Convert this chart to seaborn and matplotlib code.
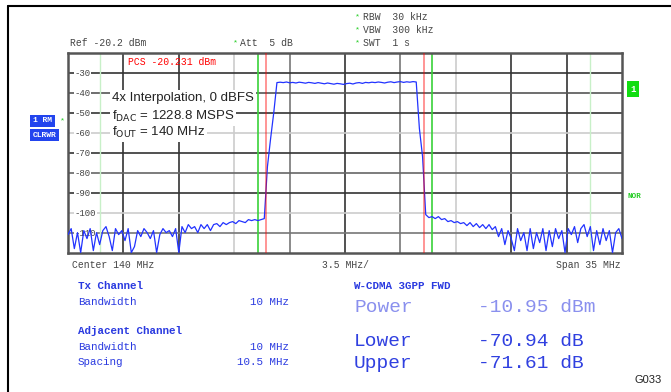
import numpy as np
import matplotlib
matplotlib.use("Agg")
import matplotlib.pyplot as plt
from matplotlib.lines import Line2D
import seaborn as sns

# sweep: center 140 MHz, span 35 MHz, 176 points (offset from center, MHz)
center_mhz = 140
span_mhz = 35
ref_dbm = -20.2
freq_offset = np.linspace(-span_mhz / 2, span_mhz / 2, 176)

# trace levels (dBm)
left_noise = [-111, -108, -118, -110, -120, -109, -113, -108, -119, -110,
              -116, -109, -107, -112, -119, -108, -111, -109, -114, -108,
              -120, -117, -109, -112, -108, -110, -113, -109, -120, -111,
              -108, -110, -109, -112, -108, -120]
left_shoulder = [-107, -110, -106, -108, -107, -110, -106, -108, -106, -109,
                 -106, -105.5, -107, -105, -106, -105, -104.5, -105.5, -104, -104.5,
                 -105, -103.5, -104, -103.5, -104, -103.5, -103]
rise = [-77, -63, -50, -35]
flat_top = [-34.8, -35.0, -34.7, -35.1, -34.9, -35.2, -34.8, -35.0, -35.3, -34.9,
            -35.1, -35.4, -35.0, -35.3, -35.6, -35.2, -35.5, -35.8, -35.4, -35.6,
            -35.9, -35.5, -35.3, -35.7, -35.2, -35.0, -35.4, -34.9, -35.1, -34.8,
            -35.0, -34.7, -34.9, -35.2, -34.8, -34.6, -35.0, -34.7, -34.5, -34.9,
            -34.6, -34.8, -34.5, -34.7]
fall = [-58, -72]
right_noise = [-101, -102.5, -102, -103, -102, -103.5, -103, -104.5, -104, -105,
               -104.5, -105.5, -105, -106.5, -105, -107, -105.5, -107.5, -106, -108,
               -106, -108.5, -107, -112, -108, -116, -109, -113, -119, -108,
               -114, -110, -119, -108, -118, -110, -115, -108, -119, -109,
               -117, -108, -113, -109, -120, -108, -111, -107, -115, -108,
               -106, -112, -107, -119, -109, -116, -108, -114, -109, -120,
               -110, -108, -113]
level = left_noise + left_shoulder + rise + flat_top + fall + right_noise

y_labels = ["-30", "-40", "-50", "-60", "-70", "-80", "-90", "-100", "-110"]

# ACP setup
tx_bw = 10
adj_bw = 10
adj_spacing = 10.5

W, H = 671, 392
sns.set_theme(style="white")
plt.rcParams["font.family"] = ["Liberation Mono", "DejaVu Sans Mono"]

fig = plt.figure(figsize=(W / 100, H / 100), dpi=100)
ax = fig.add_axes([68 / W, 1 - 253 / H, 554 / W, 200 / H])


def px(x, y):
    return x / W, 1 - y / H


# channel limit lines
for f in [-(adj_spacing - adj_bw / 2), adj_spacing - adj_bw / 2]:
    ax.axvline(f, color="#3ad23a", lw=1.2, zorder=2)
for f in [-(adj_spacing + adj_bw / 2), adj_spacing + adj_bw / 2]:
    ax.axvline(f, color="#c8f0c8", lw=1.0, zorder=2)

sns.lineplot(x=freq_offset, y=level, ax=ax, color="#2233ff", lw=0.9, zorder=4)

for f in [-tx_bw / 2, tx_bw / 2]:
    ax.axvline(f, color="red", lw=1.3, alpha=0.45, zorder=5)

ax.set_xlim(-span_mhz / 2, span_mhz / 2)
ax.set_ylim(ref_dbm - 100, ref_dbm)
ax.set_xticks(np.arange(-14, 14.1, 3.5))
ax.set_yticks(ref_dbm - 10 * np.arange(9, 0, -1))
ax.set_xticklabels([])
ax.set_yticklabels([])
ax.tick_params(length=0)
ax.set_xlabel("")
ax.set_ylabel("")
ax.grid(True, lw=1.2)
xg = ["#333", "#333", "#ccc", "#777", "#333", "#777", "#ccc", "#333", "#333"]
yg = ["#333", "#555", "#333", "#ccc", "#333", "#666", "#333", "#ccc", "#777"][::-1]
for g, c in zip(ax.get_xgridlines(), xg):
    g.set_color(c)
for g, c in zip(ax.get_ygridlines(), yg):
    g.set_color(c)
ax.set_axisbelow(True)
for s in ax.spines.values():
    s.set_color("#555")
    s.set_linewidth(1.8)

# y labels sit inside the grid
for k, lab in enumerate(y_labels):
    ax.text(0.012, ref_dbm - 10 * (k + 1), lab, transform=ax.get_yaxis_transform(),
            fontsize=6.5, color="#444", va="center", ha="left", zorder=3,
            bbox=dict(facecolor="white", edgecolor="none", pad=0.5))

ax.text(-17.5 + 3.8, ref_dbm - 4.5, "PCS -20.231 dBm", fontsize=7, color="red",
        va="center", ha="left", zorder=6)

# annotation
ann = ["4x Interpolation, 0 dBFS",
       r"f$_{\mathrm{DAC}}$ = 1228.8 MSPS",
       r"f$_{\mathrm{OUT}}$ = 140 MHz"]
for t, yy in zip(ann, [98, 116, 132]):
    fig.text(*px(112, yy), t, fontsize=9.5, family="Liberation Sans", va="center",
             ha="left", color="#222", zorder=10,
             bbox=dict(facecolor="white", edgecolor="none", pad=1.5))

# frame of the figure
fig.add_artist(Line2D([8 / W, 1], [1 - 6 / H] * 2, color="black", lw=1.5))
fig.add_artist(Line2D([8 / W] * 2, [0, 1 - 6 / H], color="black", lw=1.5))

# header
small = dict(fontsize=7, color="#444", va="center", ha="left")
fig.text(*px(70, 43), "Ref -20.2 dBm", **small)
fig.text(*px(233, 43), "*", fontsize=6, color="#22cc22", va="center")
fig.text(*px(240, 43), "Att  5 dB", **small)
for yy, t in zip([17, 30, 43], ["RBW  30 kHz", "VBW  300 kHz", "SWT  1 s"]):
    fig.text(*px(355, yy), "*", fontsize=6, color="#22cc22", va="center")
    fig.text(*px(363, yy), t, **small)

# side markers
fig.text(*px(630, 89), "1", fontsize=6.5, color="white", weight="bold", va="center",
         bbox=dict(facecolor="#11dd11", edgecolor="none", pad=2.5))
fig.text(*px(627, 196), "NOR", fontsize=5.5, color="#22cc22", va="center", weight="bold")
fig.text(*px(33, 121), "1 RM", fontsize=5.8, color="white", weight="bold", va="center",
         bbox=dict(facecolor="#2244ee", edgecolor="none", pad=2))
fig.text(*px(60, 121), "*", fontsize=6, color="#22cc22", va="center")
fig.text(*px(33, 135), "CLRWR", fontsize=5.8, color="white", weight="bold", va="center",
         bbox=dict(facecolor="#2244ee", edgecolor="none", pad=2))

# x axis annotations
fig.text(*px(72, 265), f"Center {center_mhz} MHz", **small)
fig.text(*px(322, 265), f"{span_mhz / 10} MHz/", **small)
fig.text(*px(621, 265), f"Span {span_mhz} MHz", fontsize=7, color="#444", va="center", ha="right")

# ACP table
blue = "#2a3ae0"
tb = dict(fontsize=7.8, color=blue, va="center")
fig.text(*px(78, 286), "Tx Channel", weight="bold", ha="left", **tb)
fig.text(*px(78, 302), "Bandwidth", ha="left", **tb)
fig.text(*px(289, 302), f"{tx_bw} MHz", ha="right", **tb)
fig.text(*px(78, 331), "Adjacent Channel", weight="bold", ha="left", **tb)
fig.text(*px(78, 347), "Bandwidth", ha="left", **tb)
fig.text(*px(289, 347), f"{adj_bw} MHz", ha="right", **tb)
fig.text(*px(78, 362), "Spacing", ha="left", **tb)
fig.text(*px(289, 362), f"{adj_spacing} MHz", ha="right", **tb)
fig.text(*px(353, 286), "W-CDMA 3GPP FWD", weight="bold", ha="left", **tb)

big = dict(fontsize=14, va="center", ha="left")
fig.text(*px(354, 307), "Power", color="#8a90ee", **big)
fig.text(*px(478, 307), "-10.95 dBm", color="#8a90ee", **big)
fig.text(*px(354, 341), "Lower", color="#3040e0", **big)
fig.text(*px(478, 341), "-70.94 dB", color="#3040e0", **big)
fig.text(*px(354, 363), "Upper", color="#3040e0", **big)
fig.text(*px(478, 363), "-71.61 dB", color="#3040e0", **big)

fig.text(*px(662, 380), "G033", fontsize=8, family="Liberation Sans", color="#222",
         va="center", ha="right")

fig.savefig("out.png", dpi=100)
